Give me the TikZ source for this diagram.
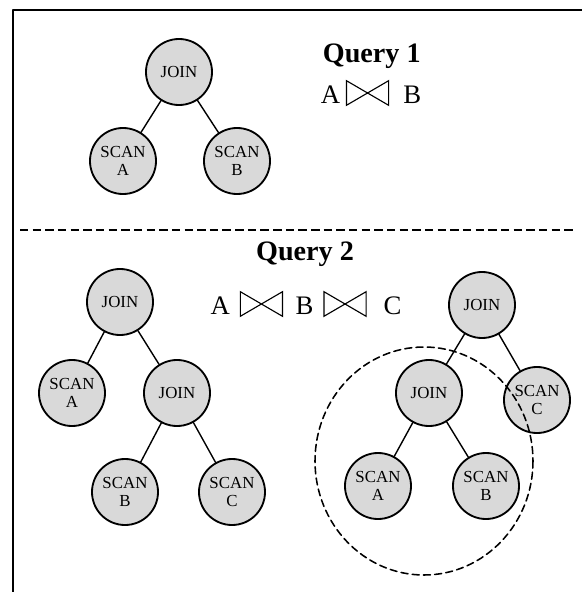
\documentclass[tikz,border=0pt]{standalone}
\usepackage{fontspec}
\setmainfont{Liberation Serif}
\newcommand{\joinsym}{\tikz[baseline=1.5pt,line width=0.8pt,line join=miter]\draw (0,0)--(0,17.5pt)--(30pt,0)--(30pt,17.5pt)--cycle;}
\begin{document}
\begin{tikzpicture}[x=0.025cm, y=-0.025cm, line join=round, line cap=round,
  opnode/.style={circle, draw, line width=1.3pt, fill=gray!30, minimum size=1.65cm, inner sep=0pt, align=center, font=\fontsize{12}{12.5}\selectfont},
  qtitle/.style={font=\bfseries\fontsize{20}{22}\selectfont},
  qexpr/.style={font=\fontsize{19}{22}\selectfont},
  edge/.style={line width=1pt}]
\useasboundingbox (0,0) rectangle (582,592);
\def\yq{230}
% frame and separator
\draw[line width=1.3pt, line cap=butt] (13,592) -- (13,10) -- (582,10);
\draw[line width=1pt, dash pattern=on 6pt off 3pt, line cap=butt] (20,\yq) -- (576,\yq);
% query 1
\node[opnode] (j1) at (179,72) {JOIN};
\node[opnode] (sa1) at (123,161) {SCAN\\A};
\node[opnode] (sb1) at (237,161) {SCAN\\B};
\node[qtitle, anchor=west] (t1) at (318,56) {Query 1};
\node[qexpr, anchor=west] (e1) at (316,93) {A\hspace{4pt}\joinsym\hspace{10pt}B};
% query 2, plan left
\node[opnode] (j2) at (120,302) {JOIN};
\node[opnode] (sa2) at (72,393) {SCAN\\A};
\node[opnode] (j3) at (177,393) {JOIN};
\node[opnode] (sb2) at (125,492) {SCAN\\B};
\node[opnode] (sc2) at (232,492) {SCAN\\C};
\node[qtitle] (t2) at (305,254) {Query 2};
\node[qexpr] (e2) at (306,304) {A\hspace{7pt}\joinsym\hspace{9pt}B\hspace{7pt}\joinsym\hspace{12pt}C};
% query 2, plan right
\node[opnode] (j4) at (482,305) {JOIN};
\node[opnode] (j5) at (429,393) {JOIN};
\node[opnode] (sc3) at (537,400) {SCAN\\C};
\node[opnode] (sa3) at (378,486) {SCAN\\A};
\node[opnode] (sb3) at (486,486) {SCAN\\B};
\foreach \a/\b in {j1/sa1, j1/sb1, j2/sa2, j2/j3, j3/sb2, j3/sc2, j4/j5, j4/sc3, j5/sa3, j5/sb3}
  \draw[edge] (\a) -- (\b);
% shared subplan
\draw[line width=1.1pt, dash pattern=on 5pt off 3pt] (424,461) ellipse (109 and 114);
\end{tikzpicture}
\end{document}
